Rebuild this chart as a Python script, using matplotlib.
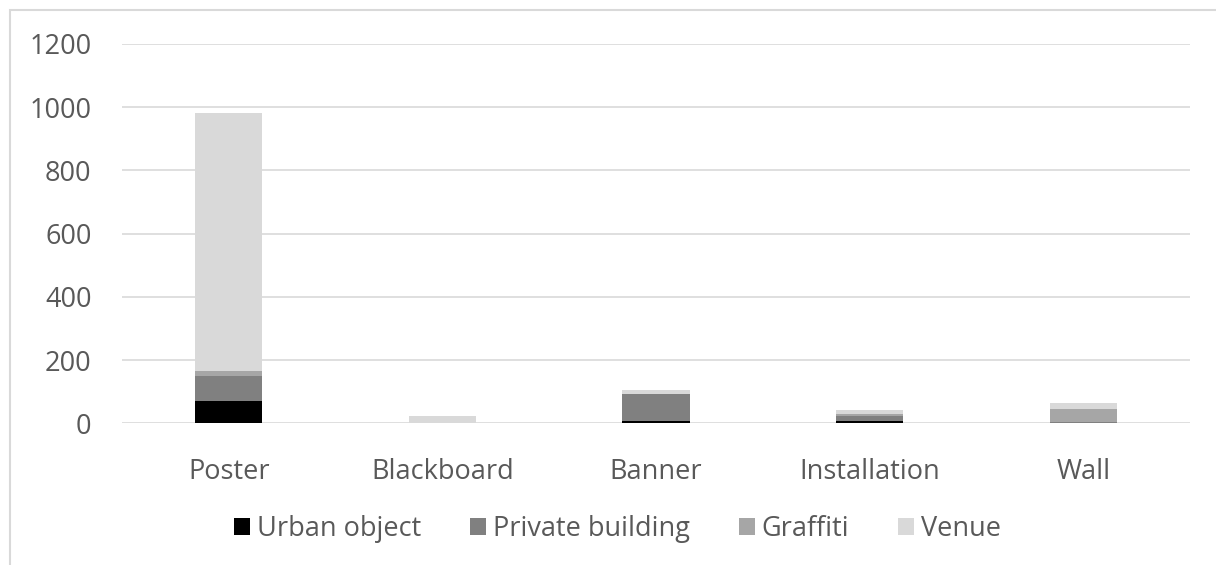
import matplotlib
matplotlib.use("Agg")
import matplotlib.pyplot as plt
from matplotlib.patches import Rectangle
import numpy as np

categories = ["Poster", "Blackboard", "Banner", "Installation", "Wall"]
series_names = ["Urban object", "Private building", "Graffiti", "Venue"]
urban = [70, 0, 8, 6, 0]
private = [80, 0, 85, 17, 3]
graffiti = [16, 0, 0, 5, 43]
venue = [817, 23, 12, 14, 19]
yticks = [0, 200, 400, 600, 800, 1000, 1200]

colors = ["#000000", "#808080", "#A6A6A6", "#D9D9D9"]
text_color = "#595959"

plt.rcParams['font.family'] = ['Open Sans', 'DejaVu Sans']

fig = plt.figure(figsize=(12.16, 5.65), dpi=100)
ax = fig.add_axes([122/1216, 141.7/565, (1190-122)/1216, (423.3-44)/565])

x = np.arange(len(categories))
bottom = np.zeros(len(categories))
for name, vals, c in zip(series_names, [urban, private, graffiti, venue], colors):
    ax.bar(x, vals, width=0.314, bottom=bottom, color=c, label=name, zorder=3)
    bottom += np.array(vals)

ax.set_xlim(-0.5, len(categories) - 0.5)
ax.set_ylim(0, 1200)
ax.set_yticks(yticks)
ax.set_yticklabels([str(v) for v in yticks])
ax.set_xticks(x)
ax.set_xticklabels(categories)
ax.grid(axis='y', color='#D9D9D9', linewidth=1.2, zorder=0)
ax.set_axisbelow(True)
for s in ax.spines.values():
    s.set_visible(False)
ax.tick_params(axis='both', length=0, labelsize=19.5, labelcolor=text_color)
ax.tick_params(axis='y', pad=22)
ax.tick_params(axis='x', pad=25)

leg = fig.legend(loc='center', bbox_to_anchor=(0.508, 36/565), ncol=4, frameon=False,
                 fontsize=19.5, handlelength=0.6, handleheight=0.6, handletextpad=0.25,
                 columnspacing=1.8, labelcolor=text_color)

fig.patches.append(Rectangle((10/1216, -0.1), 1.2, 1 - 10/565 + 0.1, transform=fig.transFigure,
                             fill=False, edgecolor='#D9D9D9', linewidth=1.5))

fig.savefig("out.png", dpi=100)
